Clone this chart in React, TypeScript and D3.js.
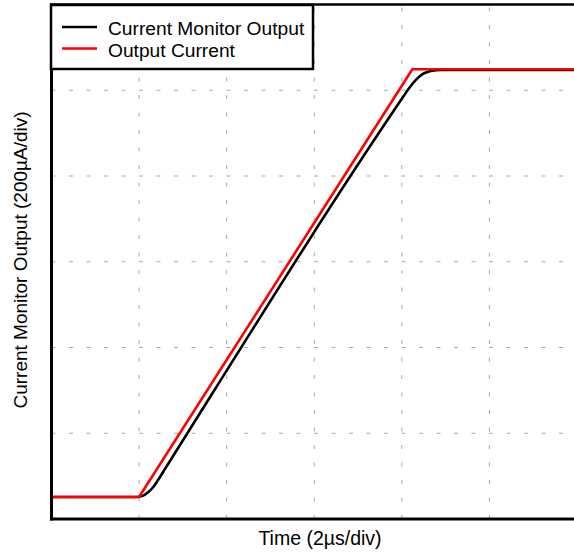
import React from "react";
import * as d3 from "d3";

// Data in divisions (x: 2µs/div, y: 200µA/div)
const xTicks = [0, 1, 2, 3, 4, 5, 6];
const yTicks = [0, 1, 2, 3, 4, 5, 6];

const outputCurrentX = [0, 1.0, 4.12, 6.2];
const outputCurrentY = [0.257, 0.257, 5.245, 5.245];

const monitorX = [0, 0.97, 1.04, 1.1, 1.16, 1.22, 1.3, 4.0, 4.08, 4.16, 4.24, 4.33, 4.45, 6.2];
const monitorY = [0.257, 0.257, 0.27, 0.31, 0.37, 0.46, 0.59, 4.9, 5.02, 5.12, 5.19, 5.225, 5.237, 5.237];

const legendLabels = ["Current Monitor Output", "Output Current"];
const legendColors = ["#000000", "#ff0000"];
const xTitle = "Time (2µs/div)";
const yTitle = "Current Monitor Output (200µA/div)";

const W = 574;
const H = 554;
const left = 51.5;
const right = 577;
const top = 4.5;
const bottom = 519;

export default function App() {
  const x = d3.scaleLinear().domain([0, 6]).range([left, right]);
  const y = d3.scaleLinear().domain([0, 6]).range([bottom, top]);

  const mk = (xs: number[], ys: number[], curve: d3.CurveFactory) =>
    d3
      .line<number>()
      .x((_, i) => x(xs[i]))
      .y((_, i) => y(ys[i]))
      .curve(curve)(xs) || "";

  const redPath = mk(outputCurrentX, outputCurrentY, d3.curveLinear);
  const blackPath = mk(monitorX, monitorY, d3.curveMonotoneX);

  const font = "Liberation Sans, Arial, sans-serif";

  return (
    <svg
      width={W}
      height={H}
      style={{ position: "absolute", left: 0, top: 0, background: "#fff" }}
    >
      <defs>
        <clipPath id="plot">
          <rect x={left} y={top} width={right - left} height={bottom - top} />
        </clipPath>
      </defs>
      {/* grid */}
      <g stroke="#a8a8a8" strokeWidth={1} strokeDasharray="4 13.5">
        {xTicks.slice(1, -1).map((t) => (
          <line key={"gx" + t} x1={x(t)} x2={x(t)} y1={bottom} y2={top} />
        ))}
        {yTicks.slice(1, -1).map((t) => (
          <line key={"gy" + t} x1={left} x2={right} y1={y(t)} y2={y(t)} />
        ))}
      </g>
      {/* series */}
      <g clipPath="url(#plot)" fill="none" strokeWidth={2.6} strokeLinejoin="round">
        <path d={blackPath} stroke={legendColors[0]} />
        <path d={redPath} stroke={legendColors[1]} />
      </g>
      {/* frame */}
      <g stroke="#000" fill="none">
        <line x1={left} x2={left} y1={top - 1} y2={bottom + 1.5} strokeWidth={3} />
        <line x1={left - 1.5} x2={right} y1={bottom} y2={bottom} strokeWidth={3} />
        <line x1={left - 1.5} x2={right} y1={top} y2={top} strokeWidth={2.5} />
      </g>
      {/* legend */}
      <rect x={51} y={5} width={262} height={64} fill="#fff" stroke="#000" strokeWidth={2.5} />
      {legendLabels.map((l, i) => (
        <g key={l}>
          <line
            x1={62}
            x2={97}
            y1={27 + i * 21.5}
            y2={27 + i * 21.5}
            stroke={legendColors[i]}
            strokeWidth={2.6}
          />
          <text x={108} y={35} dy={i * 21.5} fontFamily={font} fontSize={19.2} fill="#000">
            {l}
          </text>
        </g>
      ))}
      {/* titles */}
      <text
        x={320}
        y={545}
        textAnchor="middle"
        fontFamily={font}
        fontSize={19.5}
        fill="#000"
      >
        {xTitle}
      </text>
      <text
        transform={`translate(27, 260) rotate(-90)`}
        textAnchor="middle"
        fontFamily={font}
        fontSize={19}
        fill="#000"
      >
        {yTitle}
      </text>
    </svg>
  );
}
